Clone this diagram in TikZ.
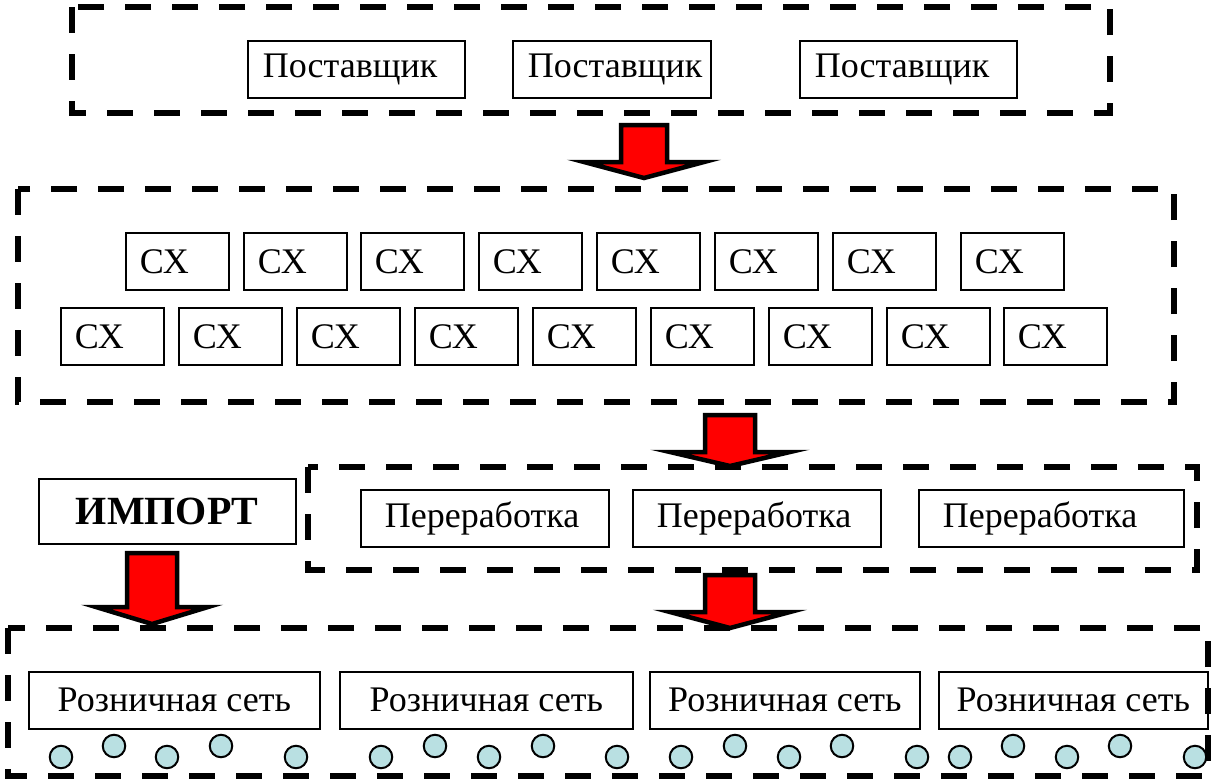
\documentclass[tikz,border=0pt]{standalone}
\usepackage{fontspec}
\setmainfont{Liberation Serif}
\usepackage{xcolor}
\usetikzlibrary{positioning,calc}
\definecolor{dotblue}{RGB}{185,224,226}

\begin{document}
\begin{tikzpicture}[x=1pt,y=-1pt,
    frame/.style={line width=5.5pt, dash pattern=on 26pt off 21pt},
    box/.style={draw, line width=1.6pt, minimum height=57pt, inner sep=0pt,
        anchor=north west, font=\fontsize{36}{40}\selectfont},
    lbox/.style={box, align=left, inner xsep=#1},
    dot/.style={circle, draw, line width=2pt, fill=dotblue, minimum size=22.5pt, inner sep=0pt},
    bigarrow/.style={draw, line width=4.5pt, fill=red, miter limit=25}]
    \useasboundingbox (0,0) rectangle (1212,782);

    % dashed frames
    \draw[frame] (72,7) rectangle (1110,113);
    \draw[frame] (18,189) rectangle (1174,402);
    \draw[frame] (308,467) rectangle (1197,570);
    \draw[frame] (8,628) rectangle (1208,776);

    % suppliers
    \foreach \x/\w [count=\i] in {247/187, 512/168, 799/187}
        \node[lbox=15pt, text width=\w pt] (sup\i) at (\x,40) {Поставщик};

    % farms, two rows
    \foreach \x [count=\i] in {125,243,360,478,596,714,832,960}
        \node[lbox=14pt, text width=75pt] (cxa\i) at (\x,232) {СХ};
    \foreach \x [count=\i] in {60,178,296,414,532,650,768,886,1003}
        \node[lbox=14pt, text width=75pt] (cxb\i) at (\x,307) {СХ};

    % processing
    \foreach \x/\w [count=\i] in {360/200, 632/200, 918/217}
        \node[lbox=24pt, text width=\w pt] (proc\i) at (\x,489) {Переработка};

    % import
    \node[box, minimum width=257pt, minimum height=65pt,
        font=\fontsize{40}{44}\selectfont\bfseries] (imp) at (38,478) {ИМПОРТ};

    % retail
    \foreach \x/\w [count=\i] in {28/291, 339/293, 649/270, 938/269}
        \node[box, minimum width=\w pt] (ret\i) at (\x,671) {Розничная сеть};

    % shops
    \foreach \x/\y [count=\i] in {61/757, 114/746, 167/757, 221/746, 296/757,
        381/757, 435/746, 489/757, 543/746, 617/757,
        681/757, 735/746, 789/757, 842/746, 917/757,
        960/757, 1013/746, 1067/757, 1120/746, 1195/757}
        \node[dot] (shop\i) at (\x,\y) {};

    % block arrows
    \foreach \c/\ya/\yb/\yc/\s/\h in {644/125/162/178/23/60, 730/415/452/466/25/60,
        152/553/607/624/25/56, 730/575/612/628/25/60}
        \draw[bigarrow] (\c-\s,\ya) -- (\c+\s,\ya) -- (\c+\s,\yb) -- (\c+\h,\yb)
            -- (\c,\yc) -- (\c-\h,\yb) -- (\c-\s,\yb) -- cycle;
\end{tikzpicture}
\end{document}
